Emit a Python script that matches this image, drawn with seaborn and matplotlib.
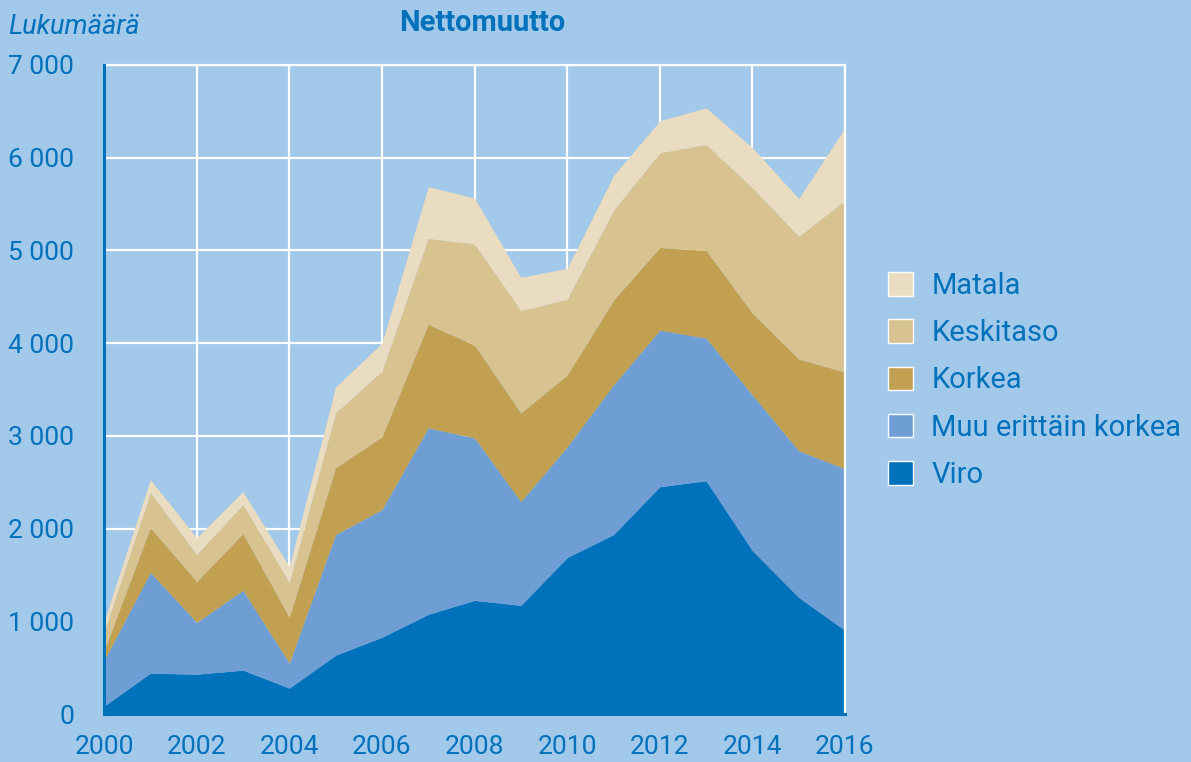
#!/usr/bin/env python3
import matplotlib

matplotlib.use("Agg")
import matplotlib.pyplot as plt
from matplotlib.patches import Patch
from matplotlib.ticker import FuncFormatter, MultipleLocator
import pandas as pd
import seaborn as sns


years = list(range(2000, 2017))
viro = [85, 441, 430, 473, 280, 634, 828, 1075, 1226, 1172, 1688, 1935, 2452, 2516, 1763, 1258, 903]
muu_erittain_korkea = [490, 1086, 559, 860, 268, 1301, 1376, 2011, 1752, 1118, 1194, 1613, 1688, 1538, 1678, 1581, 1742]
korkea = [105, 484, 441, 613, 495, 721, 785, 1118, 1000, 957, 774, 914, 892, 946, 882, 989, 1043]
keskitaso = [200, 376, 290, 312, 376, 591, 710, 925, 1092, 1103, 817, 968, 1022, 1140, 1354, 1323, 1850]
matala = [120, 140, 183, 140, 172, 280, 301, 559, 495, 360, 333, 376, 344, 398, 431, 408, 785]

series = ["Viro", "Muu erittäin korkea", "Korkea", "Keskitaso", "Matala"]

BG = "#A2C8EA"
TXT = "#0071BB"
palette = dict(zip(series, ["#0071BB", "#6E9ED3", "#C1A151", "#D8C290", "#E9DCC0"]))


def thousands(v, _pos):
    v = int(round(v))
    if v < 1000:
        return str(v)
    return f"{v // 1000} {v % 1000:03d}"


def main() -> None:
    df = pd.DataFrame(
        {
            "year": years,
            "Viro": viro,
            "Muu erittäin korkea": muu_erittain_korkea,
            "Korkea": korkea,
            "Keskitaso": keskitaso,
            "Matala": matala,
        }
    )

    sns.set_theme(style="whitegrid")
    plt.rcParams["font.family"] = ["Roboto", "DejaVu Sans"]

    fig = plt.figure(figsize=(11.91, 7.62), dpi=100, facecolor=BG)
    ax = fig.add_axes([104 / 1191, 48 / 762, 741 / 1191, 649 / 762])
    ax.set_facecolor(BG)

    ax.stackplot(
        df["year"],
        [df[s] for s in series],
        colors=[palette[s] for s in series],
        linewidth=0,
        zorder=2,
    )

    ax.set_xlim(2000, 2016)
    ax.set_ylim(0, 7000)
    ax.xaxis.set_major_locator(MultipleLocator(2))
    ax.yaxis.set_major_locator(MultipleLocator(1000))
    ax.yaxis.set_major_formatter(FuncFormatter(thousands))

    ax.set_axisbelow(True)
    ax.grid(True, color="white", lw=1.6)

    for side in ["top", "right"]:
        ax.spines[side].set_visible(True)
        ax.spines[side].set_color("white")
        ax.spines[side].set_linewidth(1.6)
        ax.spines[side].set_zorder(3)
    ax.spines["left"].set_color(TXT)
    ax.spines["left"].set_linewidth(2.2)
    ax.spines["left"].set_zorder(4)
    ax.spines["bottom"].set_color(TXT)
    ax.spines["bottom"].set_linewidth(2.2)
    ax.spines["bottom"].set_zorder(4)

    ax.tick_params(axis="y", length=11.5, width=1.6, color="white", pad=10,
                   labelsize=19, labelcolor=TXT)
    ax.tick_params(axis="x", length=9, width=1.6, color="white", pad=6,
                   labelsize=19, labelcolor=TXT)
    ax.get_yticklines()[0].set_color(TXT)
    ax.set_xlabel("")
    ax.set_ylabel("")

    fig.text(8 / 1191, 1 - 27 / 762, "Lukumäärä", fontsize=19.5, style="italic",
             color=TXT, ha="left", va="center")
    fig.text(482 / 1191, 1 - 23 / 762, "Nettomuutto", fontsize=21, fontweight="bold",
             color=TXT, ha="center", va="center")

    handles = [Patch(facecolor=palette[s], edgecolor="white", linewidth=1.0, label=s)
               for s in series[::-1]]
    fig.legend(
        handles=handles,
        loc="upper left",
        bbox_to_anchor=(888 / 1191, 1 - 272 / 762),
        frameon=False,
        fontsize=21,
        labelcolor=TXT,
        handlelength=0.86,
        handleheight=0.86,
        handletextpad=0.62,
        labelspacing=0.66,
        borderaxespad=0,
        borderpad=0,
    )

    fig.savefig("out.png", dpi=100, facecolor=BG)
    plt.close(fig)


if __name__ == "__main__":
    main()
